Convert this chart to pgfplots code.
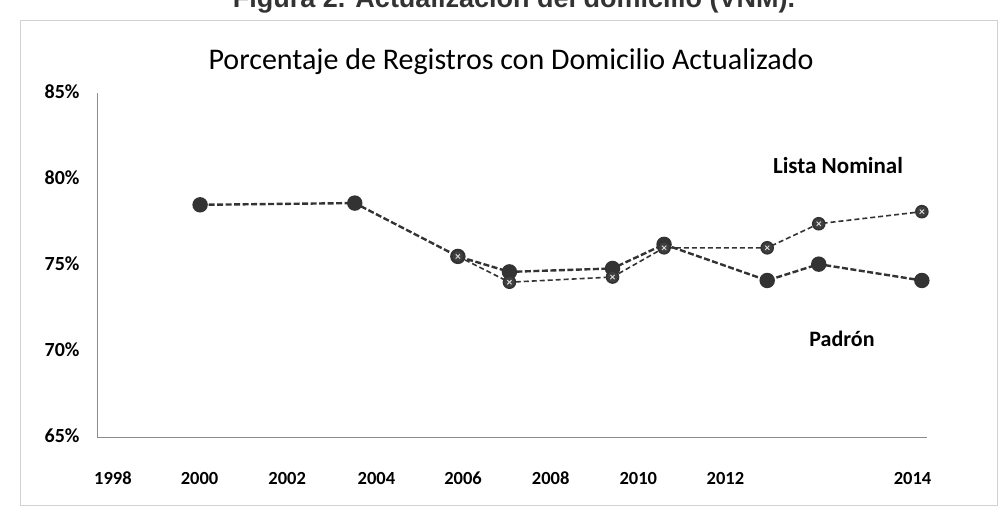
\documentclass[border=0pt]{standalone}
\usepackage{pgfplots}
\pgfplotsset{compat=1.18}
\usepackage{fontspec}
\setmainfont{Carlito}
\newfontfamily\arialfont{Liberation Sans}

\definecolor{inkdark}{HTML}{333333}
\definecolor{axisgray}{HTML}{8C8C8C}

\begin{document}
\begin{tikzpicture}[x=1pt,y=1pt]
\path[use as bounding box] (0,0) rectangle (1004,512);
\draw[gray!35, line width=0.8pt] (20,7) rectangle (997,492);
% caption of the figure, cut off by the top edge
\node[anchor=base, font=\arialfont\bfseries\fontsize{27}{30}\selectfont, inkdark] at (514,504) {Figura 2. Actualización del domicilio (VNM).};
\node[font=\fontsize{30}{34}\selectfont] at (511,450) {Porcentaje de Registros con Domicilio Actualizado};

\begin{axis}[
  at={(97pt,75pt)}, anchor=south west,
  scale only axis, width=830pt, height=344pt,
  xmin=1998, xmax=2014.1, ymin=65, ymax=85,
  axis lines=left, axis line style={axisgray, line width=1pt, -},
  clip=false,
  xtick={1998.31,1999.99,2001.69,2003.42,2005.1,2006.8,2008.5,2010.19,2013.82},
  xticklabels={1998,2000,2002,2004,2006,2008,2010,2012,2014},
  ytick={65,70,75,80,85},
  yticklabels={65\%,70\%,75\%,80\%,85\%},
  major tick length=0pt,
  tick label style={font=\bfseries\fontsize{18.5}{20}\selectfont, text height=12pt, text depth=1pt},
  xticklabel style={yshift=-32pt},
  yticklabel style={xshift=-14pt, font=\bfseries\fontsize{20}{22}\selectfont},
]
% Padron
\addplot[inkdark, line width=2.4pt, dash pattern=on 6pt off 2.5pt,
  mark=*, mark size=6.5pt, mark options={solid, fill=inkdark, draw=inkdark}]
  coordinates {(2000,78.5) (2003,78.6) (2005,75.5) (2006,74.6) (2008,74.8)
    (2009,76.2) (2011,74.1) (2012,75.05) (2014,74.1)};
% Lista Nominal
\addplot[inkdark, line width=1.6pt, dash pattern=on 5pt off 3pt,
  mark=*, mark size=6pt, mark options={solid, fill=black!75, draw=black!80}]
  coordinates {(2005,75.5) (2006,74.0) (2008,74.3) (2009,76.0)
    (2011,76.0) (2012,77.4) (2014,78.1)};
\addplot[only marks, mark=x, mark size=3pt, mark options={white!75!gray, line width=0.9pt}]
  coordinates {(2005,75.5) (2006,74.0) (2008,74.3) (2009,76.0)
    (2011,76.0) (2012,77.4) (2014,78.1)};
\end{axis}

\node[font=\bfseries\fontsize{23}{26}\selectfont] at (838,346) {Lista Nominal};
\node[font=\bfseries\fontsize{22}{26}\selectfont] at (842,173) {Padrón};
\end{tikzpicture}
\end{document}
